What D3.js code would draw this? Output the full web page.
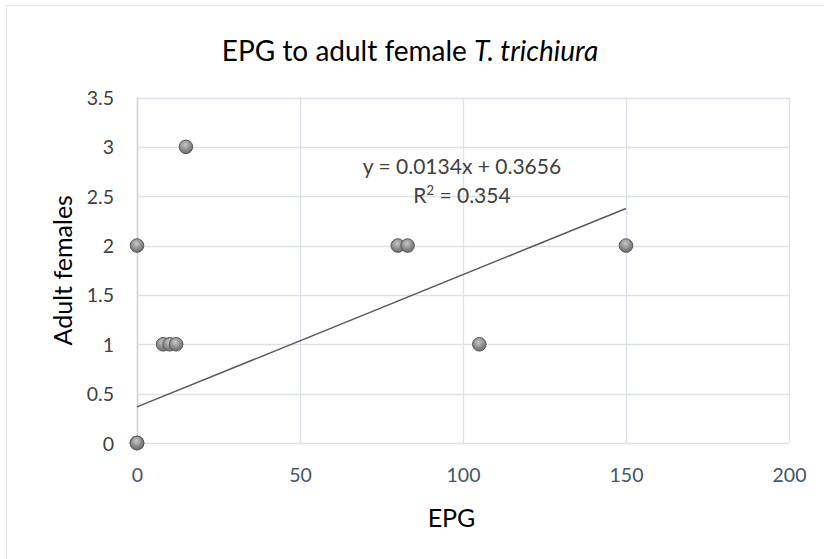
<!DOCTYPE html>
<html>
<head>
<meta charset="utf-8">
<script src="https://cdn.jsdelivr.net/npm/d3@7"></script>
<style>
  html, body { margin: 0; padding: 0; background: #fff; }
  svg { display: block; }
</style>
</head>
<body>
<svg id="chart" width="824" height="559"></svg>
<script>
// ---- data ----
const epg = [0, 0, 0, 0, 8, 10, 12, 15, 80, 83, 105, 150];
const adultFemales = [0, 0, 0, 2, 1, 1, 1, 3, 2, 2, 1, 2];
const xTicks = [0, 50, 100, 150, 200];
const yTicks = [0, 0.5, 1, 1.5, 2, 2.5, 3, 3.5];
const trendSlope = 0.0134;
const trendIntercept = 0.3656;
const trendRange = [0, 150];
const equationText = "y = 0.0134x + 0.3656";
const r2Value = "0.354";

const svg = d3.select("#chart");
const font = "Lato, 'Open Sans', sans-serif";

// outer chart border
svg.append("rect").attr("x", 6.5).attr("y", 5.5).attr("width", 830).attr("height", 560)
  .attr("fill", "#fff").attr("stroke", "#e3e5ea").attr("stroke-width", 1);

const x = d3.scaleLinear().domain([0, 200]).range([137, 789]);
const y = d3.scaleLinear().domain([0, 3.5]).range([443, 97.5]);

// gridlines
svg.append("g").selectAll("line.h").data(yTicks).join("line")
  .attr("x1", x(0)).attr("x2", x(200))
  .attr("y1", d => Math.round(y(d)) + 0.5).attr("y2", d => Math.round(y(d)) + 0.5)
  .attr("stroke", "#dde1ea").attr("stroke-width", 1.3);
svg.append("g").selectAll("line.v").data(xTicks).join("line")
  .attr("y1", y(0)).attr("y2", y(3.5))
  .attr("x1", d => Math.round(x(d)) + 0.5).attr("x2", d => Math.round(x(d)) + 0.5)
  .attr("stroke", "#dde1ea").attr("stroke-width", 1.3);
svg.append("line").attr("x1", x(0) + 0.5).attr("x2", x(0) + 0.5).attr("y1", y(0)).attr("y2", y(3.5))
  .attr("stroke", "#cdd3de").attr("stroke-width", 1.5);

// axes via d3
const yAxis = d3.axisLeft(y).tickValues(yTicks).tickSize(0).tickPadding(0).tickFormat(d3.format("~g"));
const gy = svg.append("g").attr("transform", `translate(114,0)`).call(yAxis);
gy.select(".domain").remove();
gy.selectAll("text").attr("font-family", font).attr("font-size", 19.5).attr("fill", "#404040").attr("x", 0).attr("dy", "0.36em");

const xAxis = d3.axisBottom(x).tickValues(xTicks).tickSize(0).tickPadding(0).tickFormat(d3.format("~g"));
const gx = svg.append("g").attr("transform", `translate(0,${y(0)})`).call(xAxis);
gx.select(".domain").remove();
gx.selectAll("text").attr("font-family", font).attr("font-size", 19.5).attr("fill", "#44546a").attr("y", 39).attr("dy", 0);

// trendline
svg.append("line")
  .attr("x1", x(trendRange[0])).attr("y1", y(trendSlope * trendRange[0] + trendIntercept))
  .attr("x2", x(trendRange[1])).attr("y2", y(trendSlope * trendRange[1] + trendIntercept))
  .attr("stroke", "#595959").attr("stroke-width", 1.5);

// gradient for markers
const defs = svg.append("defs");
const grad = defs.append("radialGradient").attr("id", "dotg").attr("cx", "45%").attr("cy", "35%").attr("r", "65%");
grad.append("stop").attr("offset", "0%").attr("stop-color", "#c8c8c8");
grad.append("stop").attr("offset", "60%").attr("stop-color", "#8c8c8c");
grad.append("stop").attr("offset", "100%").attr("stop-color", "#6a6a6a");

const pts = epg.map((v, i) => ({ x: v, y: adultFemales[i] }));
svg.append("g").selectAll("circle").data(pts).join("circle")
  .attr("cx", d => x(d.x)).attr("cy", d => y(d.y)).attr("r", 6.8)
  .attr("fill", "url(#dotg)").attr("stroke", "#5a5a5a").attr("stroke-width", 1);

// equation
const eq = svg.append("text").attr("font-family", font).attr("font-size", 21).attr("fill", "#404040")
  .attr("text-anchor", "middle");
eq.append("tspan").attr("x", 462).attr("y", 174).text(equationText);
const r2 = eq.append("tspan").attr("x", 462).attr("y", 202.5);
r2.append("tspan").text("R");
r2.append("tspan").attr("font-size", 13).attr("dy", -8).text("2");
r2.append("tspan").attr("dy", 8).text(" = " + r2Value);

// title
const title = svg.append("text").attr("x", 410).attr("y", 61).attr("text-anchor", "middle")
  .attr("font-family", font).attr("font-size", 28).attr("fill", "#000");
title.append("tspan").text("EPG to adult female ");
title.append("tspan").attr("font-style", "italic").text("T. trichiura");

// axis titles
svg.append("text").attr("x", 451.5).attr("y", 526.5).attr("text-anchor", "middle")
  .attr("font-family", font).attr("font-size", 25).attr("fill", "#000").text("EPG");
svg.append("text").attr("transform", `translate(72,${(y(0) + y(3.5)) / 2}) rotate(-90)`)
  .attr("text-anchor", "middle").attr("font-family", font).attr("font-size", 25).attr("fill", "#000")
  .text("Adult females");
</script>
</body>
</html>
